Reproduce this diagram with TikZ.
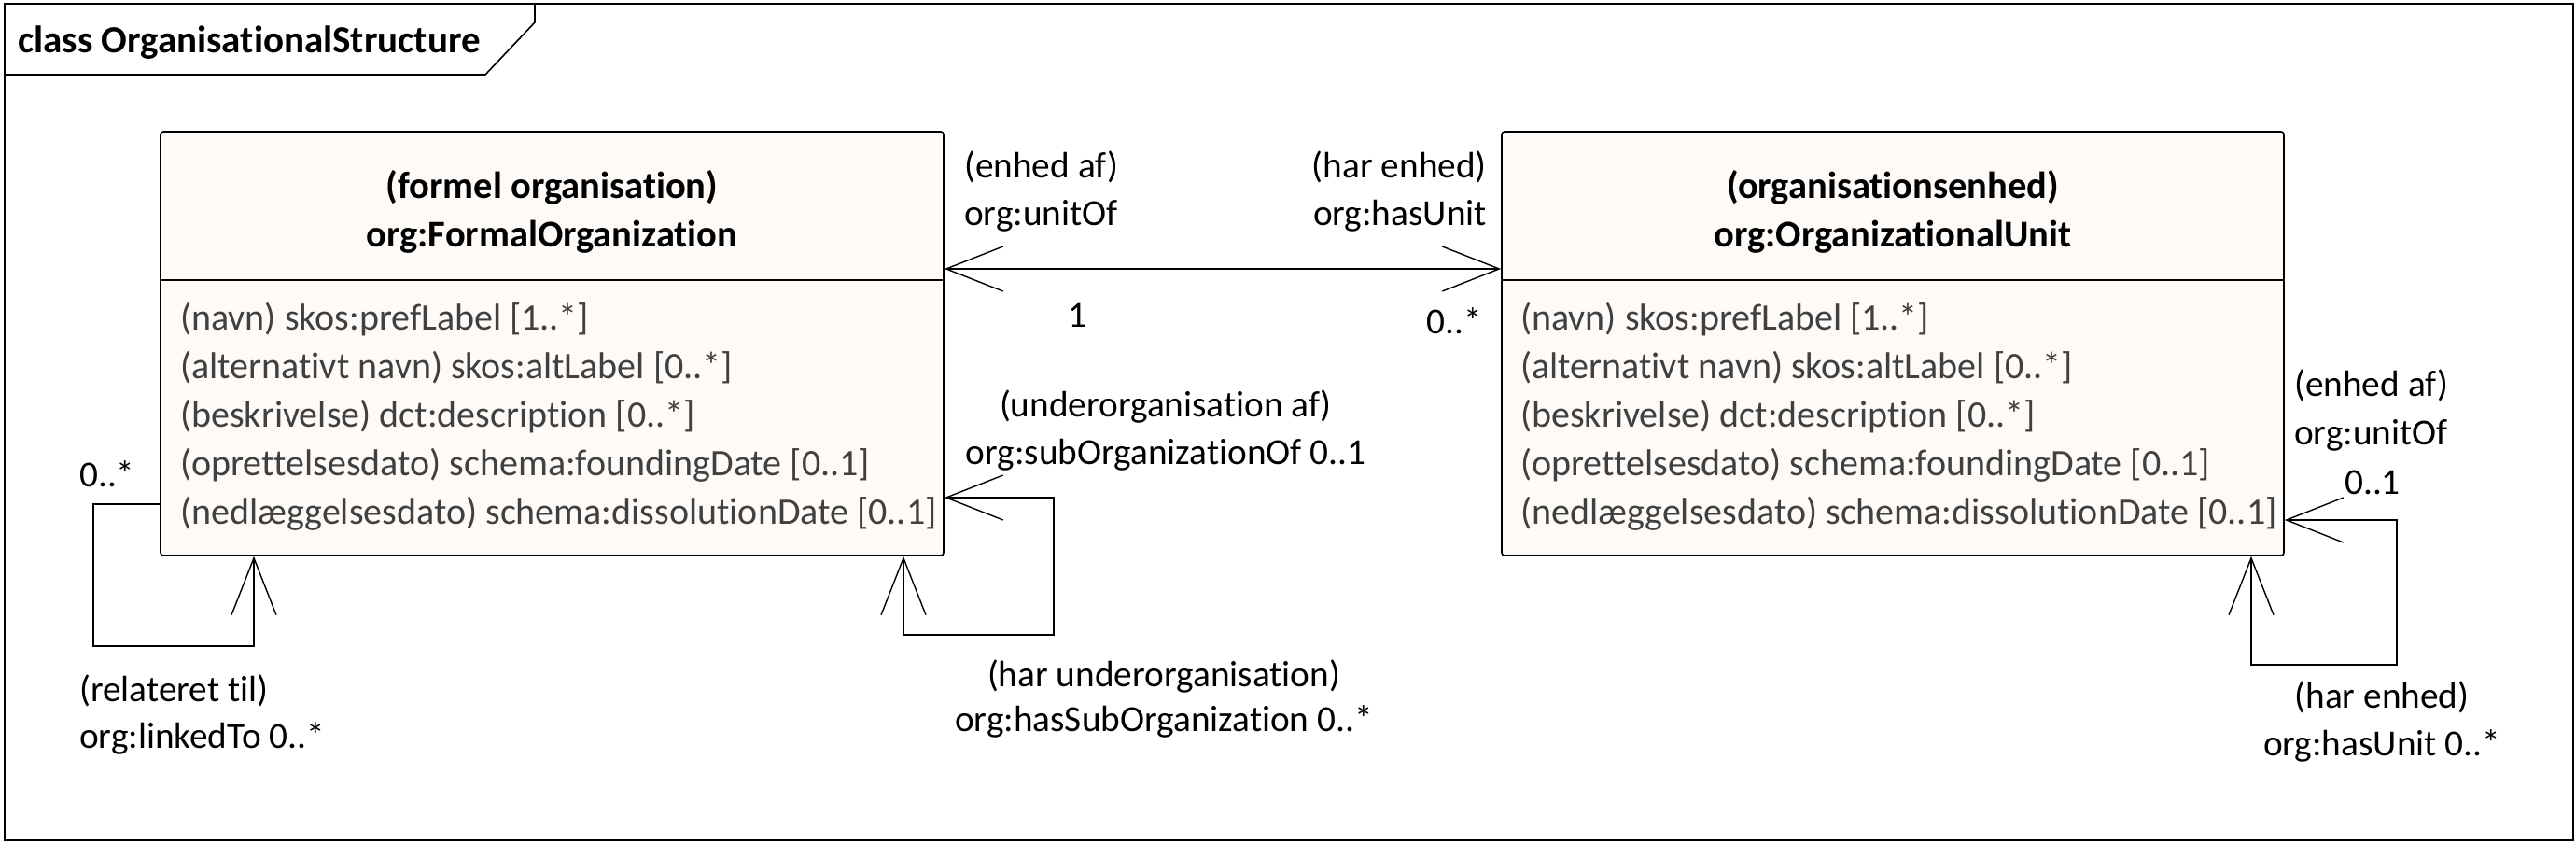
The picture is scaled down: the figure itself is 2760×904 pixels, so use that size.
\documentclass[tikz,border=0pt]{standalone}
\usepackage{fontspec}
\setmainfont{Carlito}[Ligatures={NoCommon}]
\usetikzlibrary{arrows.meta}
\definecolor{boxfill}{HTML}{FDFAF7}
\definecolor{attrgrey}{HTML}{404040}
\tikzset{ubarb/.tip={Straight Barb[length=61pt,width=48pt]}}
\begin{document}
\begin{tikzpicture}[x=1pt,y=-1pt,
  classbox/.style={draw, line width=1.6pt, fill=boxfill, rounded corners=3pt, inner sep=0pt},
  lbl/.style={inner sep=0pt, font=\fontsize{39.3}{50}\selectfont},
  attrtext/.style={inner sep=0pt, anchor=base west, text=attrgrey, font=\fontsize{40}{52}\selectfont},
  ttl/.style={inner sep=0pt, anchor=base, font=\bfseries\fontsize{40.5}{52}\selectfont},
  assoc/.style={line width=1.4pt},
]
\useasboundingbox (0,0) rectangle (2760,904);
% frame
\draw[line width=2pt] (5,4) rectangle (2757,900);
\draw[line width=1.6pt] (5,80) -- (520,80) -- (573,24) -- (573,4);
\node[inner sep=0pt, anchor=base west, font=\bfseries\fontsize{41}{50}\selectfont] (title) at (19,57) {class OrganisationalStructure};

% boxes
\node[classbox, minimum width=839pt, minimum height=454pt] (fo) at (591.5,368) {};
\node[classbox, minimum width=838pt, minimum height=454pt] (ou) at (2028,368) {};
\coordinate (dv) at (0,300);
\draw[line width=1.6pt] (fo.west |- dv) -- (fo.east |- dv);
\draw[line width=1.6pt] (ou.west |- dv) -- (ou.east |- dv);

\node[ttl] (fo1) at (591.5,213) {(formel organisation)};
\node[ttl] (fo2) at (591.5,265) {org:FormalOrganization};
\node[attrtext] (fa1) at (193,353) {(navn) skos:prefLabel [1..*]};
\node[attrtext] (fa2) at (193,405) {(alternativt navn) skos:altLabel [0..*]};
\node[attrtext] (fa3) at (193,457) {(beskrivelse) dct:description [0..*]};
\node[attrtext] (fa4) at (193,509) {(oprettelsesdato) schema:foundingDate [0..1]};
\node[attrtext] (fa5) at (193,561) {(nedlæggelsesdato) schema:dissolutionDate [0..1]};

\node[ttl] (ou1) at (2028,213) {(organisationsenhed)};
\node[ttl] (ou2) at (2028,265) {org:OrganizationalUnit};
\node[attrtext] (oa1) at (1629,353) {(navn) skos:prefLabel [1..*]};
\node[attrtext] (oa2) at (1629,405) {(alternativt navn) skos:altLabel [0..*]};
\node[attrtext] (oa3) at (1629,457) {(beskrivelse) dct:description [0..*]};
\node[attrtext] (oa4) at (1629,509) {(oprettelsesdato) schema:foundingDate [0..1]};
\node[attrtext] (oa5) at (1629,561) {(nedlæggelsesdato) schema:dissolutionDate [0..1]};

% association between boxes
\coordinate (m) at (0,288);
\draw[assoc, ubarb-ubarb] (fo.east |- m) -- (ou.west |- m);
\node[lbl, anchor=base west] (m1) at (1033,191) {(enhed af)};
\node[lbl, anchor=base west] (m2) at (1033,241) {org:unitOf};
\node[lbl, anchor=base east] (m3) at (1593,191) {(har enhed)};
\node[lbl, anchor=base east] (m4) at (1593,241) {org:hasUnit};
\node[lbl, anchor=base] (m5) at (1154,350) {1};
\node[lbl, anchor=base east] (m6) at (1588,357) {0..*};

% linkedTo loop
\coordinate (l1) at (100,540);
\coordinate (l2) at (272,692);
\draw[assoc, -ubarb] (fo.west |- l1) -- (l1) |- (l2) -- (fo.south -| l2);
\node[lbl, anchor=base west] (lk0) at (85,521) {0..*};
\node[lbl, anchor=base west] (lk1) at (85,751) {(relateret til)};
\node[lbl, anchor=base west] (lk2) at (85,801) {org:linkedTo 0..*};

% sub organisation loop
\coordinate (s1) at (1129,533);
\coordinate (s2) at (968,680);
\draw[assoc, ubarb-ubarb] (fo.east |- s1) -- (s1) |- (s2) -- (fo.south -| s2);
\node[lbl, anchor=base] (so1) at (1249,446) {(underorganisation af)};
\node[lbl, anchor=base] (so2) at (1249,497) {org:subOrganizationOf 0..1};
\node[lbl, anchor=base] (hs1) at (1247,735) {(har underorganisation)};
\node[lbl, anchor=base] (hs2) at (1247,783) {org:hasSubOrganization 0..*};

% unit loop
\coordinate (r1) at (2568,557);
\coordinate (r2) at (2412,712);
\draw[assoc, ubarb-ubarb] (ou.east |- r1) -- (r1) |- (r2) -- (ou.south -| r2);
\node[lbl, anchor=base west] (ru1) at (2458,424) {(enhed af)};
\node[lbl, anchor=base west] (ru2) at (2458,476) {org:unitOf};
\node[lbl, anchor=base west] (ru3) at (2512,529) {0..1};
\node[lbl, anchor=base] (rh1) at (2552,758) {(har enhed)};
\node[lbl, anchor=base] (rh2) at (2552,809) {org:hasUnit 0..*};
\end{tikzpicture}
\end{document}
